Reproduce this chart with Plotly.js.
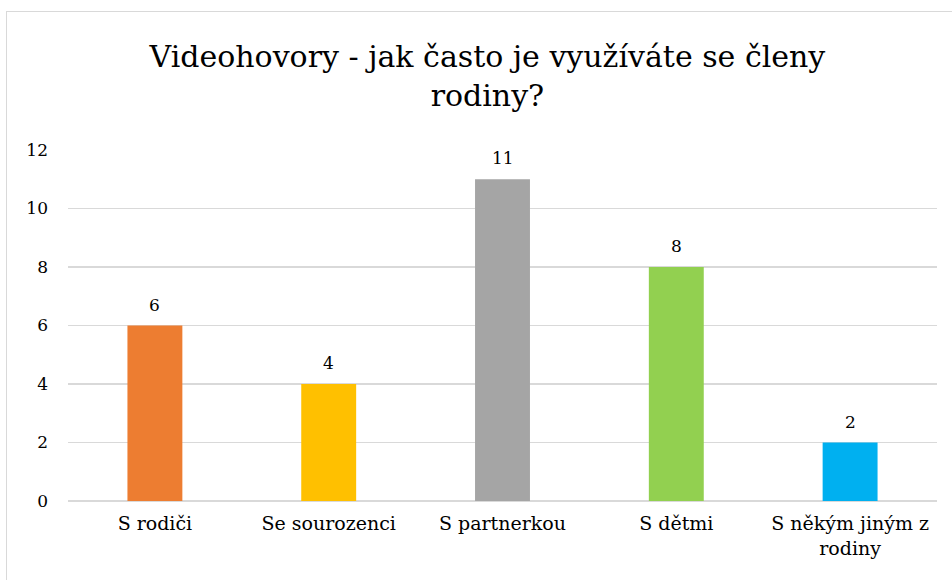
<!DOCTYPE html>
<html>
<head>
<meta charset="utf-8">
<script src="https://cdn.plot.ly/plotly-3.0.1.min.js"></script>
<style>
html,body{margin:0;padding:0;background:#fff;}
#chart{position:absolute;left:0;top:0;width:952px;height:580px;}
#frame{position:absolute;left:6px;top:11px;width:960px;height:600px;border-left:1.5px solid #d9d9d9;border-top:1.5px solid #d9d9d9;pointer-events:none;}
</style>
</head>
<body>
<div id="chart"></div>
<div id="frame"></div>
<script>
var categories = ["S rodiči", "Se sourozenci", "S partnerkou", "S dětmi", "S někým jiným z<br>rodiny"];
var values = [6, 4, 11, 8, 2];
var colors = ["#ED7D31", "#FFC000", "#A5A5A5", "#92D050", "#00B0F0"];
var yTicks = [0, 2, 4, 6, 8, 10, 12];

var font = "DejaVu Serif, serif";

var trace = {
  type: "bar",
  x: categories,
  y: values,
  marker: {color: colors},
  cliponaxis: false,
  width: 0.316,
  hoverinfo: "x+y"
};

var labels = categories.map(function (c, i) {
  return {
    x: c, y: values[i], xref: "x", yref: "y",
    text: String(values[i]),
    showarrow: false,
    yanchor: "bottom",
    yshift: 9,
    font: {family: font, size: 17, color: "#000"}
  };
});

var layout = {
  width: 952,
  height: 580,
  margin: {l: 68, r: 15, t: 150, b: 79},
  paper_bgcolor: "#fff",
  plot_bgcolor: "#fff",
  font: {family: font, size: 17, color: "#000"},
  title: {
    text: "Videohovory - jak často je využíváte se členy<br>rodiny?",
    font: {family: font, size: 30, color: "#000"},
    x: 0.512,
    xanchor: "center",
    y: 0.885,
    yanchor: "middle"
  },
  annotations: labels,
  xaxis: {
    type: "category",
    showgrid: false,
    showline: false,
    zeroline: false,
    ticks: "",
    ticklabelstandoff: 9,
    tickfont: {family: font, size: 19, color: "#000"}
  },
  yaxis: {
    range: [0, 12],
    tickvals: yTicks,
    ticktext: yTicks.map(String),
    showgrid: true,
    gridcolor: "#d9d9d9",
    gridwidth: 1.5,
    zeroline: true,
    zerolinecolor: "#d9d9d9",
    zerolinewidth: 1.5,
    showline: false,
    ticks: "",
    ticklabelstandoff: 19,
    tickfont: {family: font, size: 17, color: "#000"}
  },
  showlegend: false,
  bargap: 0.684
};

Plotly.newPlot("chart", [trace], layout, {displayModeBar: false, staticPlot: true});
</script>
</body>
</html>
